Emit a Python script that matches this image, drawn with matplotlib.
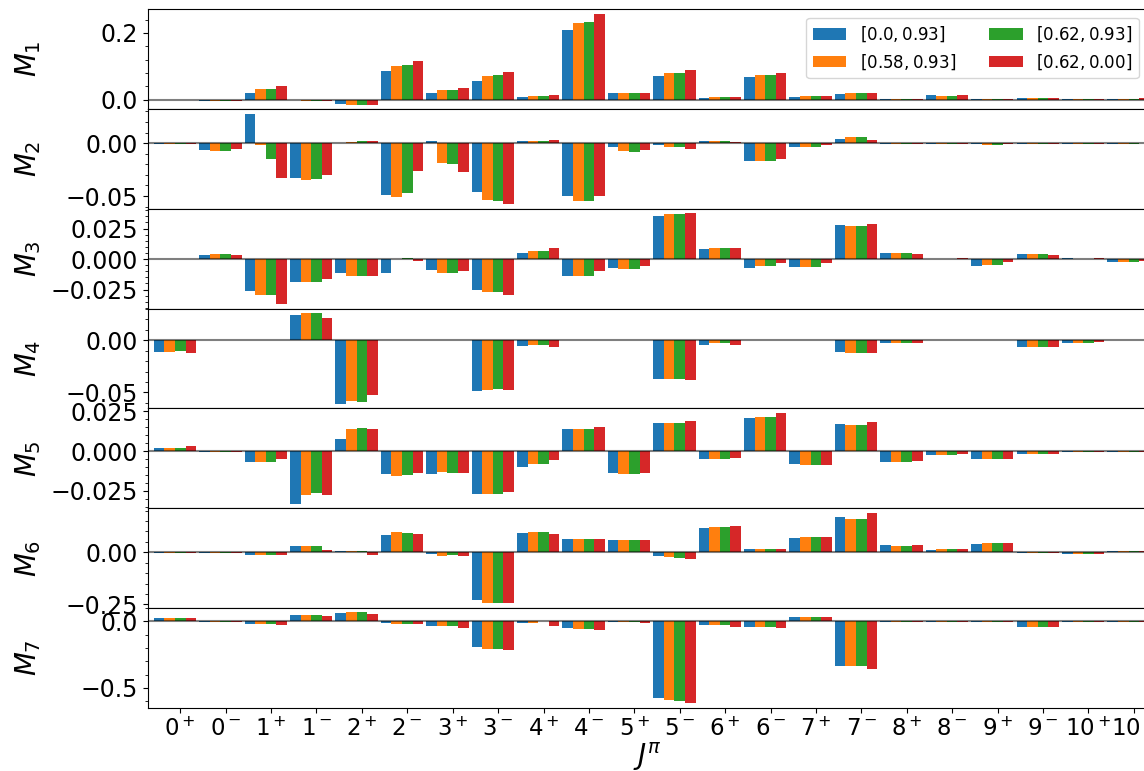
import numpy as np
import matplotlib
matplotlib.use('Agg')
import matplotlib.pyplot as plt
from matplotlib.ticker import AutoMinorLocator


cats = [r'$0^+$', r'$0^-$', r'$1^+$', r'$1^-$', r'$2^+$', r'$2^-$', r'$3^+$', r'$3^-$',
        r'$4^+$', r'$4^-$', r'$5^+$', r'$5^-$', r'$6^+$', r'$6^-$', r'$7^+$', r'$7^-$',
        r'$8^+$', r'$8^-$', r'$9^+$', r'$9^-$', r'$10^+$', r'$10^-$']

labels = [r'$[0.0, 0.93]$', r'$[0.58, 0.93]$', r'$[0.62, 0.93]$', r'$[0.62, 0.00]$']

# one list per parameter set (blue, orange, green, red)
m1 = [[-0.001, -0.005, 0.020, -0.001, -0.012, 0.086, 0.020, 0.056, 0.008, 0.209, 0.020, 0.071, 0.005, 0.068, 0.008, 0.017, 0.002, 0.014, 0.001, 0.005, 0.002, 0.002],
      [-0.001, -0.005, 0.032, -0.005, -0.015, 0.101, 0.029, 0.071, 0.011, 0.230, 0.020, 0.081, 0.008, 0.074, 0.011, 0.020, 0.002, 0.011, 0.001, 0.005, 0.002, 0.002],
      [-0.001, -0.005, 0.032, -0.005, -0.015, 0.104, 0.029, 0.074, 0.011, 0.233, 0.020, 0.081, 0.008, 0.074, 0.011, 0.020, 0.002, 0.011, 0.001, 0.005, 0.002, 0.002],
      [-0.001, -0.005, 0.041, -0.005, -0.015, 0.116, 0.035, 0.083, 0.014, 0.257, 0.020, 0.089, 0.008, 0.080, 0.011, 0.020, 0.003, 0.014, 0.003, 0.005, 0.002, 0.005]]

m2 = [[-0.0003, -0.0066, 0.028, -0.0332, 0.0006, -0.0493, 0.0025, -0.0465, 0.0025, -0.0502, -0.0038, -0.0019, 0.0025, -0.0171, -0.0038, 0.0044, -0.0003, -0.0003, -0.001, -0.0003, -0.0003, -0.001],
      [-0.0003, -0.0076, -0.0019, -0.0351, 0.0016, -0.0512, -0.019, -0.054, 0.0025, -0.055, -0.0076, -0.0038, 0.0025, -0.0171, -0.0038, 0.0054, -0.0003, -0.0003, -0.0019, -0.0003, -0.0003, -0.001],
      [-0.0003, -0.0076, -0.0152, -0.0341, 0.0025, -0.0474, -0.020, -0.055, 0.0025, -0.055, -0.0085, -0.0038, 0.0025, -0.0171, -0.0038, 0.0054, -0.0003, -0.0003, -0.0019, -0.0003, -0.0003, -0.001],
      [-0.0003, -0.0057, -0.0332, -0.0303, 0.0025, -0.0265, -0.0275, -0.0578, 0.0035, -0.0502, -0.0066, -0.0057, 0.0016, -0.0152, -0.0019, 0.0035, -0.0003, -0.0003, -0.001, -0.0003, -0.0003, 0.0003]]

m3 = [[-0.0003, 0.003, -0.0262, -0.0188, -0.0115, -0.0115, -0.009, -0.0254, 0.0049, -0.0139, -0.0074, 0.035, 0.0082, -0.0074, -0.0066, 0.0276, 0.0049, -0.0003, -0.0057, 0.0041, 0.0008, -0.0025],
      [-0.0003, 0.0041, -0.0295, -0.0188, -0.0139, 0.0, -0.0115, -0.027, 0.0066, -0.0139, -0.0082, 0.0366, 0.009, -0.0057, -0.0066, 0.0268, 0.0049, 0.0, -0.0049, 0.0041, 0.0, -0.0025],
      [-0.0003, 0.0041, -0.0295, -0.0188, -0.0139, 0.0008, -0.0115, -0.027, 0.0066, -0.0139, -0.0082, 0.0366, 0.009, -0.0057, -0.0066, 0.0268, 0.0049, 0.0, -0.0049, 0.0041, 0.0, -0.0025],
      [-0.0003, 0.003, -0.0369, -0.0164, -0.0139, -0.0016, -0.0098, -0.0295, 0.009, -0.0098, -0.0057, 0.0374, 0.009, -0.0033, -0.0033, 0.0284, 0.0041, 0.0008, -0.0025, 0.0033, 0.0008, -0.0016]]

m4 = [[-0.0112, 0, 0, 0.0239, -0.0609, 0, 0, -0.0485, -0.0054, 0, 0, -0.037, -0.0045, 0, 0, -0.0112, -0.0026, 0, 0, -0.0064, -0.0026, 0],
      [-0.0112, 0, 0, 0.0258, -0.058, 0, 0, -0.0475, -0.0045, 0, 0, -0.037, -0.0032, 0, 0, -0.0121, -0.0026, 0, 0, -0.0064, -0.0026, 0],
      [-0.0102, 0, 0, 0.0258, -0.059, 0, 0, -0.0466, -0.0045, 0, 0, -0.037, -0.0032, 0, 0, -0.0121, -0.0026, 0, 0, -0.0064, -0.0026, 0],
      [-0.0121, 0, 0, 0.0211, -0.0523, 0, 0, -0.0475, -0.0064, 0, 0, -0.0379, -0.0045, 0, 0, -0.0121, -0.0026, 0, 0, -0.0064, -0.0013, 0]]

m5 = [[0.0023, -0.0004, -0.0071, -0.033, 0.0079, -0.0146, -0.0146, -0.027, -0.010, 0.0141, -0.0139, 0.0179, -0.0052, 0.021, -0.0083, 0.0173, -0.0071, -0.0021, -0.0046, -0.0015, -0.0006, -0.0006],
      [0.0023, -0.0004, -0.0071, -0.0275, 0.0141, -0.0156, -0.0133, -0.027, -0.0083, 0.0141, -0.0146, 0.0179, -0.0046, 0.0216, -0.009, 0.0166, -0.0071, -0.0021, -0.0046, -0.0015, -0.0006, -0.0006],
      [0.0023, -0.0004, -0.0071, -0.0264, 0.0148, -0.015, -0.0139, -0.027, -0.0083, 0.0141, -0.0146, 0.0179, -0.0046, 0.0216, -0.009, 0.0166, -0.0071, -0.0021, -0.0046, -0.0015, -0.0006, -0.0006],
      [0.0035, -0.0004, -0.0052, -0.0275, 0.0141, -0.0139, -0.0139, -0.0258, -0.0058, 0.0154, -0.0139, 0.0191, -0.004, 0.0241, -0.009, 0.0185, -0.0064, -0.0015, -0.0046, -0.0015, -0.0006, -0.0006]]

m6 = [[-0.001, -0.001, -0.0144, 0.032, 0.0048, 0.0848, -0.0096, -0.23, 0.094, 0.0656, 0.061, -0.019, 0.118, 0.0176, 0.0704, 0.171, 0.0368, 0.0128, 0.0416, -0.005, -0.0096, 0.008],
      [-0.001, -0.001, -0.0144, 0.032, 0.008, 0.099, -0.019, -0.245, 0.099, 0.0656, 0.061, -0.024, 0.123, 0.0176, 0.075, 0.162, 0.032, 0.0176, 0.0464, -0.005, -0.0096, 0.008],
      [-0.001, -0.001, -0.0144, 0.032, 0.008, 0.094, -0.0144, -0.245, 0.099, 0.0656, 0.061, -0.029, 0.123, 0.0176, 0.075, 0.162, 0.032, 0.0176, 0.0464, -0.005, -0.0096, 0.008],
      [-0.001, -0.001, -0.0144, 0.0128, -0.0144, 0.09, -0.019, -0.245, 0.09, 0.0656, 0.061, -0.0336, 0.128, 0.0176, 0.075, 0.19, 0.0368, 0.0176, 0.0464, -0.005, -0.0096, 0.008]]

m7 = [[0.0225, -0.005, -0.0225, 0.045, 0.06, -0.015, -0.0375, -0.195, -0.015, -0.0525, -0.005, -0.5775, -0.03, -0.045, 0.03, -0.3375, -0.005, -0.002, -0.002, -0.045, -0.004, -0.004],
      [0.0225, -0.005, -0.0225, 0.045, 0.0675, -0.0225, -0.0375, -0.21, -0.015, -0.06, -0.005, -0.5925, -0.03, -0.045, 0.03, -0.3375, -0.005, -0.002, -0.002, -0.045, -0.004, -0.004],
      [0.0225, -0.005, -0.0225, 0.045, 0.0675, -0.0225, -0.0375, -0.21, 0.0, -0.06, -0.005, -0.60, -0.03, -0.045, 0.03, -0.3375, -0.005, -0.002, -0.002, -0.045, -0.004, -0.004],
      [0.0225, -0.005, -0.03, 0.0375, 0.0525, -0.0225, -0.0525, -0.2175, -0.0375, -0.0675, -0.015, -0.615, -0.045, -0.0525, 0.03, -0.36, -0.005, -0.002, -0.004, -0.045, -0.004, -0.004]]

panels = [m1, m2, m3, m4, m5, m6, m7]
colors = ['C0', 'C1', 'C2', 'C3']

x = np.arange(len(cats))
w = 0.7 / 3

fig, axes = plt.subplots(7, 1, sharex=True, figsize=(11.44, 7.71), dpi=100)
fig.subplots_adjust(left=148/1144, right=1147/1144, top=1-9.3/771, bottom=1-707.7/771, hspace=0)

for k, (ax, data) in enumerate(zip(axes, panels)):
    for i in range(4):
        ax.bar(x + (i - 2) * w, data[i], width=w, color=colors[i], label=labels[i])
    ax.axhline(0, color='k', alpha=0.5, lw=1.5)
    ax.yaxis.set_minor_locator(AutoMinorLocator(5))
    ax.tick_params(axis='y', labelsize=17)
    ax.tick_params(axis='x', labelsize=16.5)
    ax.set_ylabel(r'$M_%d$' % (k + 1), fontsize=20)
    ax.yaxis.set_label_coords(-0.105, 0.5)

axes[0].legend(ncol=2, fontsize=12, loc='upper right')
axes[-1].set_xticks(x)
axes[-1].set_xticklabels(cats)
axes[-1].set_xlim(-0.71, 21.29)
axes[-1].set_xlabel(r'$J^\pi$', fontsize=20, labelpad=0)

plt.savefig('out.png')
